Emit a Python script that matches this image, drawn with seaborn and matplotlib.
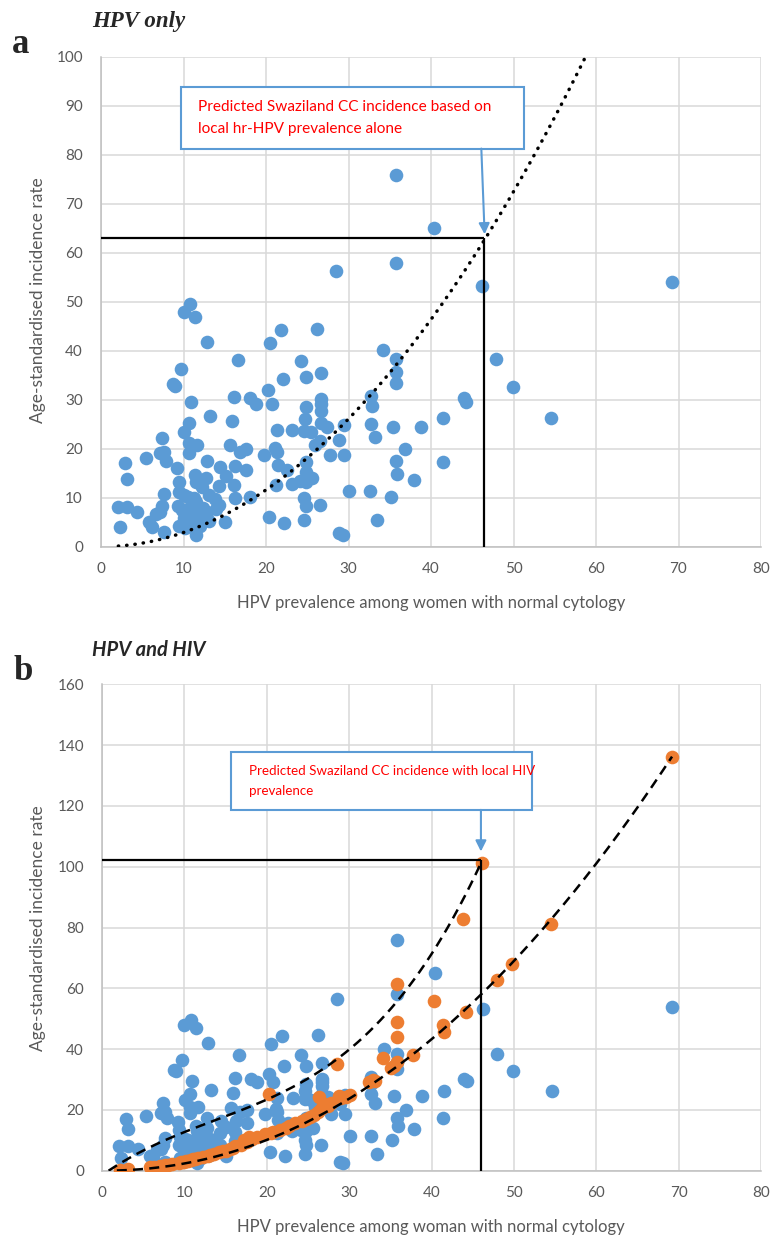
import matplotlib
matplotlib.use("Agg")
import numpy as np
import pandas as pd
import matplotlib.pyplot as plt
import seaborn as sns
from matplotlib.patches import Rectangle

# HPV prevalence (x) vs age-standardised CC incidence (y), one point per country
blue_x = [69.2, 54.6, 49.9, 47.9, 46.2, 44.0, 44.3, 41.5, 41.4, 40.4, 38.8, 37.9, 36.9,
          35.8, 35.8, 35.8, 35.8, 35.8, 35.4, 35.8, 35.9, 35.2, 34.2, 33.4, 33.2, 32.7,
          32.8, 32.7, 32.6, 30.1, 29.3, 28.9, 29.5, 29.5, 28.9, 28.5, 27.8, 27.4, 26.7,
          26.7, 26.7, 26.7, 26.7, 26.6, 26.5, 26.2, 25.9, 25.6, 25.4, 24.8, 24.8, 24.7,
          24.6, 24.8, 24.9, 24.8, 24.6, 24.8, 24.6, 24.2, 24.1, 23.2, 23.1, 22.6, 22.1,
          21.8, 21.4, 21.3, 21.2, 21.3, 20.7, 21.1, 20.4, 22.2, 20.5, 20.3, 19.8, 18.8,
          18.1, 18.0, 17.6, 17.6, 16.6, 16.8, 16.3, 16.1, 16.2, 15.9, 16.1, 15.6, 15.0,
          15.1, 14.4, 14.3, 14.3, 13.8, 13.9, 13.2, 12.9, 13.1, 13.1, 12.8, 12.7, 12.3,
          11.6, 11.5, 11.4, 11.4, 10.8, 10.9, 10.7, 10.7, 10.7, 10.1, 10.0, 9.7, 8.7,
          9.0, 9.2, 9.4, 9.5, 10.1, 10.5, 11.3, 11.5, 9.3, 9.8, 10.2, 10.6, 11.0, 11.6,
          12.4, 10.1, 10.6, 11.3, 11.7, 12.3, 12.9, 9.5, 10.2, 11.1, 12.0, 11.5, 7.9,
          7.45, 7.2, 7.65, 5.4, 7.65, 7.45, 7.2, 6.7, 5.8, 6.2, 7.65, 4.4, 2.9, 3.1, 2.1,
          3.2, 2.3]
blue_y = [54.0, 26.3, 32.7, 38.4, 53.2, 30.3, 29.5, 26.2, 17.2, 65.0, 24.5, 13.6, 19.9,
          75.9, 58.0, 38.3, 35.6, 33.5, 24.5, 17.4, 14.8, 10.2, 40.1, 5.5, 22.4, 30.7,
          28.8, 25.1, 11.4, 11.4, 2.4, 2.7, 18.8, 24.8, 21.8, 56.4, 18.8, 24.4, 35.4,
          30.2, 29.2, 27.8, 25.3, 8.6, 21.5, 44.5, 20.8, 14.0, 23.4, 34.6, 28.6, 26.1,
          23.6, 17.3, 15.3, 13.2, 10.0, 8.3, 5.5, 37.9, 13.4, 23.9, 12.9, 15.6, 34.3,
          44.3, 16.7, 19.4, 12.5, 23.9, 29.2, 20.2, 6.0, 4.9, 41.6, 31.9, 18.8, 29.2,
          30.3, 10.1, 15.7, 20.0, 38.1, 19.3, 16.4, 30.5, 9.9, 25.6, 12.6, 20.7, 5.0,
          14.5, 16.3, 12.4, 8.6, 9.7, 7.8, 26.6, 41.9, 10.5, 5.3, 17.4, 14.0, 12.1,
          20.8, 13.2, 14.6, 47.0, 49.5, 29.6, 25.2, 21.1, 19.1, 23.4, 47.9, 36.3, 33.2,
          32.9, 16.0, 13.3, 11.2, 10.5, 10.2, 9.9, 9.2, 8.3, 7.5, 7.0, 7.8, 7.2, 7.8,
          8.0, 5.8, 5.5, 6.0, 6.5, 6.6, 7.0, 4.2, 3.9, 4.0, 4.3, 2.4, 17.4,
          22.2, 19.1, 19.4, 18.1, 10.7, 8.3, 7.0, 6.7, 5.0, 4.1, 2.9, 7.0, 17.0, 13.8, 8.1,
          8.1, 4.1]

# predicted incidence including local HIV prevalence
orange_x = [2.2, 3.1, 5.8, 6.3, 7.1, 7.6, 8.0, 8.5, 9.3, 9.6, 9.9, 10.2, 10.5, 10.8, 11.0,
            11.3, 11.6, 12.3, 12.9, 13.1, 13.6, 14.2, 14.7, 15.0, 15.5, 15.9, 16.2, 16.9,
            17.2, 17.6, 17.8, 18.2, 18.8, 19.8, 20.3, 20.5, 20.8, 21.6, 22.3, 22.7, 23.4,
            24.3, 24.8, 25.3, 25.7, 26.2, 26.3, 26.6, 26.9, 27.4, 27.8, 28.5, 28.8, 29.0,
            29.6, 30.1, 32.4, 32.9, 33.2, 34.1, 35.1, 35.5, 35.8, 35.8, 35.8, 35.8, 37.8,
            40.3, 41.4, 41.5, 44.2, 43.8, 46.1, 47.9, 49.8, 54.5, 69.2]
orange_y = [0.2, 0.4, 1.2, 1.3, 1.6, 1.8, 2.0, 2.2, 2.5, 2.7, 2.9, 3.1, 3.3, 3.5, 3.7,
            3.9, 4.1, 4.5, 5.0, 5.3, 5.6, 6.0, 6.4, 6.6, 7.3, 7.6, 8.0, 8.6,
            10.1, 9.5, 11.2, 10.5, 11.0, 12.0, 25.2, 12.3, 12.6, 13.4, 14.2, 14.8, 15.6,
            16.3, 17.0, 17.6, 18.3, 19.4, 24.3, 20.3, 22.0, 21.2, 22.2, 35.0, 24.6, 23.8,
            24.2, 24.8, 29.3, 29.9, 29.6, 37.0, 33.7, 34.3, 35.7, 43.9, 48.8, 61.3, 38.1,
            55.9, 47.9, 45.7, 52.2, 82.8, 101.1, 62.7, 68.0, 81.2, 136.0]

# trendlines
trend_a = (0.029, 2.0)            # y = a * x**b, panel a (dotted)
trend_b_low = (0.0191, 2.094)     # y = a * x**b, panel b lower (dashed)
trend_b_high = [0.0015405, -0.06368, 1.901, -1.4808]  # cubic, panel b upper
range_a = (2.1, 60)
range_b_low = (1.8, 69.2)
range_b_high = (0.8, 46.1)

# Swaziland prediction guides
pred_a = (46.4, 63.0)
pred_b = (46.0, 102.3)

BLUE = "#5B9BD5"
ORANGE = "#ED7D31"
GREY = "#595959"
GRID = "#D9D9D9"

sns.set_theme(style="white")
plt.rcParams["font.family"] = ["Lato", "DejaVu Sans"]

W, H = 772, 1239
fig = plt.figure(figsize=(W / 100, H / 100), dpi=100)


def fx(px):
    return px / W


def fy(py):
    return 1 - py / H


def style_axes(ax, ymax, ystep):
    ax.set_xlim(0, 80)
    ax.set_ylim(0, ymax)
    ax.set_xticks(range(0, 81, 10))
    ax.set_yticks(range(0, ymax + 1, ystep))
    ax.grid(True, color=GRID, lw=1.1)
    ax.set_axisbelow(True)
    for s in ["top", "right"]:
        ax.spines[s].set_visible(False)
    for s in ["left", "bottom"]:
        ax.spines[s].set_color("#BFBFBF")
        ax.spines[s].set_linewidth(1.1)
    ax.tick_params(length=0, labelsize=11, labelcolor=GREY)
    ax.tick_params(axis="x", pad=11)
    ax.tick_params(axis="y", pad=13)
    ax.set_xlabel("")
    ax.set_ylabel("")


df_blue = pd.DataFrame({"hpv": blue_x, "asr": blue_y})
df_orange = pd.DataFrame({"hpv": orange_x, "asr": orange_y})

# ---------------- panel a ----------------
ax1 = fig.add_axes([fx(101), fy(546.7), fx(660), 489.7 / H])
sns.scatterplot(data=df_blue, x="hpv", y="asr", ax=ax1, color=BLUE, s=96,
                linewidth=0, zorder=3)
style_axes(ax1, 100, 10)

xa = np.linspace(*range_a, 200)
ax1.plot(xa, trend_a[0] * xa ** trend_a[1], color="black", lw=2.5,
         linestyle=(0, (0.1, 2.3)), dash_capstyle="round", zorder=4)
ax1.hlines(pred_a[1], 0, pred_a[0], color="black", lw=1.6, zorder=4)
ax1.vlines(pred_a[0], 0, pred_a[1], color="black", lw=1.6, zorder=4)

ax1.add_patch(Rectangle((9.7, 81.3), 41.6, 12.5, facecolor="white",
                        edgecolor=BLUE, lw=1.5, zorder=6))
ax1.text(11.7, 87.6, "Predicted Swaziland CC incidence based on\nlocal hr-HPV prevalence alone",
         color="red", fontsize=11.1, ha="left", va="center", linespacing=1.7, zorder=7)
ax1.annotate("", xy=(pred_a[0] + 0.1, pred_a[1] + 0.8), xytext=(46.1, 81.3),
             arrowprops=dict(arrowstyle="-|>", color=BLUE, lw=1.5,
                             mutation_scale=16, shrinkA=0, shrinkB=0), zorder=7)

# ---------------- panel b ----------------
ax2 = fig.add_axes([fx(102), fy(1170.7), fx(659), 486.4 / H])
sns.scatterplot(data=df_blue, x="hpv", y="asr", ax=ax2, color=BLUE, s=96,
                linewidth=0, zorder=3)
sns.scatterplot(data=df_orange, x="hpv", y="asr", ax=ax2, color=ORANGE, s=96,
                linewidth=0, zorder=4)
style_axes(ax2, 160, 20)

xl = np.linspace(*range_b_low, 200)
ax2.plot(xl, trend_b_low[0] * xl ** trend_b_low[1], color="black", lw=1.8,
         linestyle=(0, (4, 2.5)), zorder=5)
xh = np.linspace(*range_b_high, 200)
ax2.plot(xh, np.polyval(trend_b_high, xh), color="black", lw=1.8,
         linestyle=(0, (4, 2.5)), zorder=5)
ax2.hlines(pred_b[1], 0, pred_b[0], color="black", lw=1.6, zorder=5)
ax2.vlines(pred_b[0], 0, pred_b[1], color="black", lw=1.6, zorder=5)

ax2.add_patch(Rectangle((15.6, 118.7), 36.6, 19.0, facecolor="white",
                        edgecolor=BLUE, lw=1.5, zorder=6))
ax2.text(17.8, 128.2, "Predicted Swaziland CC incidence with local HIV\nprevalence",
         color="red", fontsize=9.6, ha="left", va="center", linespacing=1.8, zorder=7)
ax2.annotate("", xy=(pred_b[0], 105.0), xytext=(pred_b[0], 118.7),
             arrowprops=dict(arrowstyle="-|>", color=BLUE, lw=1.5,
                             mutation_scale=16, shrinkA=0, shrinkB=0), zorder=7)

# ---------------- labels ----------------
fig.text(fx(38), fy(300), "Age-standardised incidence rate", rotation=90,
         ha="center", va="center", fontsize=12.5, color=GREY)
fig.text(fx(431), fy(603), "HPV prevalence among women with normal cytology",
         ha="center", va="center", fontsize=12, color=GREY)
fig.text(fx(38), fy(928), "Age-standardised incidence rate", rotation=90,
         ha="center", va="center", fontsize=12.5, color=GREY)
fig.text(fx(431), fy(1227), "HPV prevalence among woman with normal cytology",
         ha="center", va="center", fontsize=12, color=GREY)

fig.text(fx(92), fy(22), "HPV only", ha="left", va="center", fontsize=16.5,
         fontweight="bold", fontstyle="italic", family=["Liberation Serif", "DejaVu Serif"])
fig.text(fx(12), fy(53), "a", ha="left", va="baseline", fontsize=25,
         fontweight="bold", family=["Liberation Serif", "DejaVu Serif"])
fig.text(fx(92), fy(650), "HPV and HIV", ha="left", va="center", fontsize=14.5,
         fontweight="bold", fontstyle="italic")
fig.text(fx(13), fy(680), "b", ha="left", va="baseline", fontsize=25,
         fontweight="bold", family=["Liberation Serif", "DejaVu Serif"])

fig.savefig("out.png", dpi=100)
